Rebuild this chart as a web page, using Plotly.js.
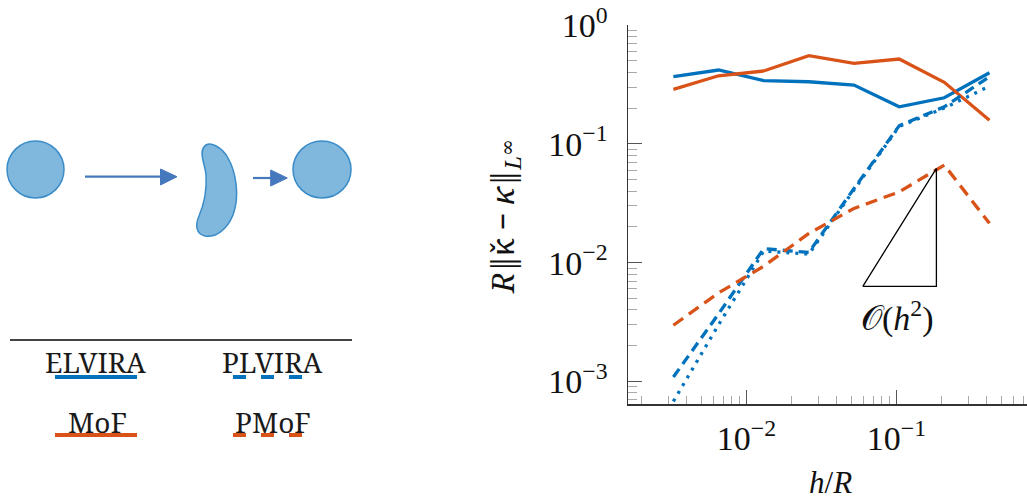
<!DOCTYPE html>
<html>
<head>
<meta charset="utf-8">
<script src="https://cdn.plot.ly/plotly-3.0.1.min.js"></script>
<style>html,body{margin:0;padding:0;background:#fff;}#chart{width:1027px;height:500px;}</style>
</head>
<body>
<div id="chart"></div>
<script>
// ---- data ----
const hOverR = [0.003255, 0.00651, 0.01302, 0.02604, 0.05208, 0.1042, 0.2083, 0.4167];
const elvira = [0.367, 0.418, 0.340, 0.333, 0.312, 0.205, 0.244, 0.396];
const mof    = [0.287, 0.374, 0.410, 0.552, 0.475, 0.517, 0.329, 0.158];
const plvira = [0.00109, 0.0037, 0.0131, 0.0122, 0.042, 0.142, 0.205, 0.367];
const plviraDot = [0.00068, 0.0030, 0.0125, 0.0118, 0.041, 0.140, 0.200, 0.306];
const pmof   = [0.00297, 0.00556, 0.00933, 0.0176, 0.0286, 0.0394, 0.0662, 0.0214];
const slopeX = [0.0596, 0.1845, 0.1845, 0.0596];
const slopeY = [0.00632, 0.0621, 0.00632, 0.00632];
const xTickVals = [0.01, 0.1];
const xTickText = ['10<sup>−2</sup>', '10<sup>−1</sup>'];
const yTickVals = [0.001, 0.01, 0.1, 1];
const yTickText = ['10<sup>−3</sup>', '10<sup>−2</sup>', '10<sup>−1</sup>', '10<sup>0</sup>'];
const legendNames = ['ELVIRA', 'PLVIRA', 'MoF', 'PMoF'];

const BLUE = '#0072BD', ORANGE = '#D95319';
const FONT = '"Liberation Serif", "DejaVu Serif", serif';
const FONT_NOTO = '"Noto Serif", "DejaVu Serif", serif';

function minorVals(lo, hi) {
  const v = [];
  for (let e = lo; e <= hi; e++) for (let d = 2; d <= 9; d++) v.push(d * Math.pow(10, e));
  return v;
}

const traces = [
  {x: hOverR, y: elvira, mode: 'lines', line: {color: BLUE, width: 3.3}, name: legendNames[0]},
  {x: hOverR, y: mof, mode: 'lines', line: {color: ORANGE, width: 3.3}, name: legendNames[2]},
  {x: hOverR, y: plvira, mode: 'lines', line: {color: BLUE, width: 3.3, dash: '10px,6px'}, name: legendNames[1]},
  {x: hOverR, y: plviraDot, mode: 'lines', line: {color: BLUE, width: 3.3, dash: '3px,6px'}, name: 'PLVIRA (dotted)'},
  {x: hOverR, y: pmof, mode: 'lines', line: {color: ORANGE, width: 3.3, dash: '12px,7px'}, name: legendNames[3]},
  {x: slopeX, y: slopeY, mode: 'lines', line: {color: '#000', width: 1.3}, name: 'slope'}
];

const W = 1027, H = 500;
const px = v => v / W, py = v => 1 - v / H;

const schematicShapes = [
  {type: 'circle', xref: 'x2', yref: 'y2', x0: 7, x1: 64, y0: 141, y1: 198,
   fillcolor: 'rgb(128,183,221)', line: {color: 'rgb(58,140,200)', width: 1.5}},
  {type: 'circle', xref: 'x2', yref: 'y2', x0: 293, x1: 351, y0: 141, y1: 198,
   fillcolor: 'rgb(128,183,221)', line: {color: 'rgb(58,140,200)', width: 1.5}},
  {type: 'path', xref: 'x2', yref: 'y2',
   path: 'M 204 147 C 209 140, 222 147, 228 158 C 236 172, 240 196, 233 215 C 227 230, 215 238, 205 236 C 196 234, 195 225, 199 216 C 205 202, 207 190, 206 175 C 205 164, 199 153, 204 147 Z',
   fillcolor: 'rgb(128,183,221)', line: {color: 'rgb(58,140,200)', width: 1.5}},
  {type: 'line', xref: 'x2', yref: 'y2', x0: 85, x1: 162, y0: 176.7, y1: 176.7, line: {color: 'rgb(70,120,190)', width: 2.2}},
  {type: 'path', xref: 'x2', yref: 'y2', path: 'M 160.5 169 L 177 176.7 L 160.5 185 Z',
   fillcolor: 'rgb(70,120,190)', line: {color: 'rgb(70,120,190)', width: 1}},
  {type: 'line', xref: 'x2', yref: 'y2', x0: 253, x1: 272, y0: 178, y1: 178, line: {color: 'rgb(70,120,190)', width: 2.2}},
  {type: 'path', xref: 'x2', yref: 'y2', path: 'M 270.7 170 L 287.3 178 L 270.7 186 Z',
   fillcolor: 'rgb(70,120,190)', line: {color: 'rgb(70,120,190)', width: 1}},
  // legend table
  {type: 'line', xref: 'x2', yref: 'y2', x0: 10, x1: 352, y0: 340, y1: 340, line: {color: '#444', width: 2}},
  {type: 'line', xref: 'x2', yref: 'y2', x0: 55, x1: 137, y0: 377, y1: 377, line: {color: BLUE, width: 4}},
  {type: 'line', xref: 'x2', yref: 'y2', x0: 233, x1: 304, y0: 377, y1: 377, line: {color: BLUE, width: 4, dash: '13px,15px'}},
  {type: 'line', xref: 'x2', yref: 'y2', x0: 55, x1: 137, y0: 435, y1: 435, line: {color: ORANGE, width: 4}},
  {type: 'line', xref: 'x2', yref: 'y2', x0: 233, x1: 304, y0: 435, y1: 435, line: {color: ORANGE, width: 4, dash: '13px,15px'}}
];

const legendPos = [[95, 362], [272.5, 362], [97, 422], [273, 422]];
const annotations = legendNames.map((n, i) => ({
  xref: 'x2', yref: 'y2', x: legendPos[i][0], y: legendPos[i][1], text: n, showarrow: false,
  xanchor: 'center', yanchor: 'middle', font: {family: FONT_NOTO, size: 28, color: '#1a1a1a'}
}));
annotations.push(
  {xref: 'paper', yref: 'paper', x: px(504), y: py(217), textangle: -90,
   text: '<i>R</i>‖κ̌ − <i>κ</i>‖<sub><i>L</i></sub><span style="font-size:20px">∞</span>', showarrow: false,
   xanchor: 'center', yanchor: 'middle', font: {family: FONT_NOTO, size: 31, color: '#111'}},
  {xref: 'paper', yref: 'paper', x: px(830), y: py(482), text: '<i>h</i>/<i>R</i>', showarrow: false,
   xanchor: 'center', yanchor: 'middle', font: {family: FONT, size: 31, color: '#111'}},
  {xref: 'paper', yref: 'paper', x: px(897), y: py(316), text: '𝒪(<i>h</i><sup>2</sup>)', showarrow: false,
   xanchor: 'center', yanchor: 'middle', font: {family: FONT, size: 34, color: '#111'}}
);

const layout = {
  width: W, height: H,
  margin: {l: 0, r: 0, t: 0, b: 0, pad: 0},
  paper_bgcolor: '#fff', plot_bgcolor: '#fff',
  showlegend: false,
  xaxis: {
    type: 'log', range: [-2.79, -0.13], domain: [px(628), 1], anchor: 'y',
    showline: true, linecolor: '#333', linewidth: 1.5, mirror: false,
    showgrid: false, zeroline: false,
    ticks: 'inside', ticklen: 14, tickwidth: 1, tickcolor: '#555',
    tickvals: xTickVals, ticktext: xTickText, ticklabelstandoff: 4,
    tickfont: {family: FONT, size: 34, color: '#111'},
    minor: {ticks: 'inside', ticklen: 8, tickwidth: 1, tickcolor: '#aaa', tickvals: minorVals(-3, -1), showgrid: false}
  },
  yaxis: {
    type: 'log', range: [-3.19, 0], domain: [py(404), py(25)], anchor: 'x',
    showline: true, linecolor: '#333', linewidth: 1.5, mirror: false,
    showgrid: false, zeroline: false,
    ticks: 'inside', ticklen: 14, tickwidth: 1, tickcolor: '#555',
    tickvals: yTickVals, ticktext: yTickText, ticklabelstandoff: 12,
    tickfont: {family: FONT, size: 34, color: '#111'},
    minor: {ticks: 'inside', ticklen: 9, tickwidth: 1, tickcolor: '#aaa', tickvals: minorVals(-4, -1), showgrid: false}
  },
  xaxis2: {domain: [0, px(370)], range: [0, 370], anchor: 'y2', visible: false, fixedrange: true},
  yaxis2: {domain: [0, 1], range: [500, 0], anchor: 'x2', visible: false, fixedrange: true},
  shapes: schematicShapes,
  annotations: annotations
};

Plotly.newPlot('chart', traces, layout, {staticPlot: true, displayModeBar: false});
</script>
</body>
</html>
